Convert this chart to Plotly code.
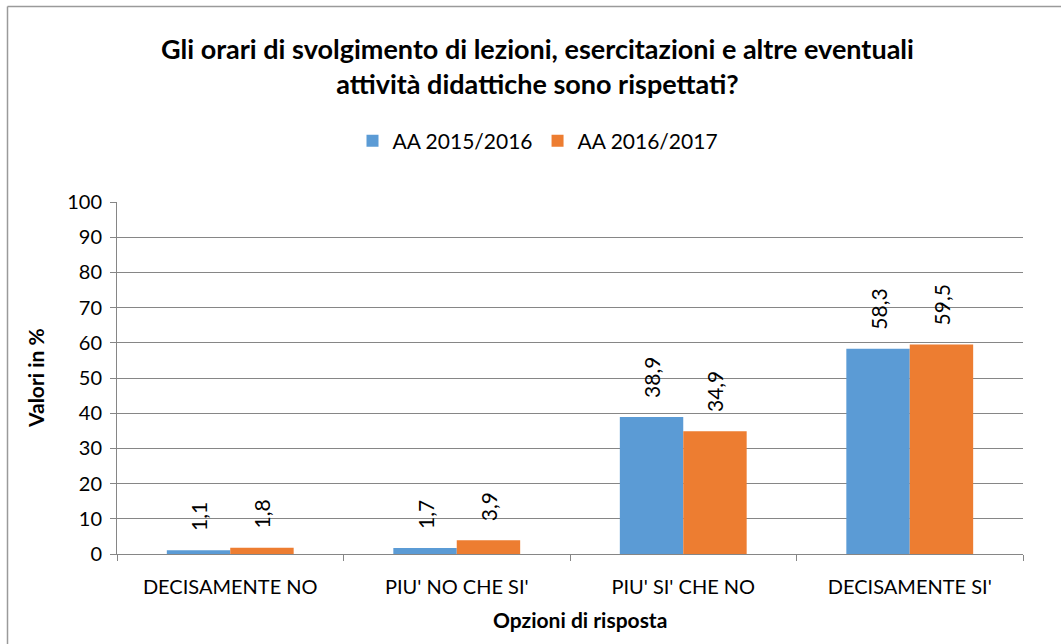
import plotly.graph_objects as go

categories = ["DECISAMENTE NO", "PIU' NO CHE SI'", "PIU' SI' CHE NO", "DECISAMENTE SI'"]
series_names = ["AA 2015/2016", "AA 2016/2017"]
values_2015 = [1.1, 1.7, 38.9, 58.3]
values_2016 = [1.8, 3.9, 34.9, 59.5]
colors = ["#5B9BD5", "#ED7D31"]
y_ticks = [0, 10, 20, 30, 40, 50, 60, 70, 80, 90, 100]

FONT = "Lato, 'Open Sans', sans-serif"
NB = "\u00a0"

def fmt(v):
    return NB * 3 + f"{v:.1f}".replace(".", ",")

W, H = 1061, 644
L, R, T, B = 117, 38, 202, 90
PW, PH = W - L - R, H - T - B

fig = go.Figure()
for name, vals, col in zip(series_names, [values_2015, values_2016], colors):
    fig.add_trace(go.Bar(
        x=categories, y=vals, name=name,
        marker=dict(color=col, line=dict(width=0)),
        text=[fmt(v) for v in vals],
        textposition="outside", textangle=-90,
        textfont=dict(family=FONT, size=21, color="#000000"),
        cliponaxis=False,
    ))

fig.update_layout(
    width=W, height=H,
    paper_bgcolor="white", plot_bgcolor="white",
    margin=dict(l=L, r=R, t=T, b=B),
    barmode="group", bargap=0.44, bargroupgap=0,
    font=dict(family=FONT, color="#000000"),
    showlegend=True,
    legend=dict(orientation="h", x=538 / W, xanchor="center", xref="container",
                y=1 - 141 / H, yanchor="middle", yref="container",
                font=dict(family=FONT, size=21, color="#000000"),
                traceorder="normal", itemwidth=30),
)
fig.update_xaxes(
    showline=True, linecolor="#868686", linewidth=1,
    ticks="outside", tickson="boundaries", ticklen=6, tickcolor="#868686",
    tickfont=dict(family=FONT, size=20, color="#000000"),
    ticklabelstandoff=15,
    showgrid=False,
)
fig.update_yaxes(
    range=[0, 100], tickvals=y_ticks,
    showline=True, linecolor="#868686", linewidth=1,
    ticks="outside", ticklen=6, tickcolor="#868686",
    tickfont=dict(family=FONT, size=20, color="#000000"),
    ticklabelstandoff=4,
    showgrid=True, gridcolor="#868686", gridwidth=1,
    zeroline=False,
)

fig.add_annotation(
    text="<b>Gli orari di svolgimento di lezioni, esercitazioni e altre eventuali<br>attività didattiche sono rispettati?</b>",
    xref="paper", yref="paper", x=(537 - L) / PW, y=1 + (T - 66) / PH, xanchor="center", yanchor="middle",
    showarrow=False, font=dict(family=FONT, size=27, color="#000000"), align="center",
)
fig.add_annotation(
    text="<b>Valori in %</b>", textangle=-90,
    xref="paper", yref="paper", x=-(L - 35) / PW, y=(H - B - 378) / PH, xanchor="center", yanchor="middle",
    showarrow=False, font=dict(family=FONT, size=21, color="#000000"),
)
fig.add_annotation(
    text="<b>Opzioni di risposta</b>",
    xref="paper", yref="paper", x=(580 - L) / PW, y=-(619 - (H - B)) / PH, xanchor="center", yanchor="middle",
    showarrow=False, font=dict(family=FONT, size=21, color="#000000"),
)
# outer chart border (left and top visible)
bx = -(L - 7.5) / PW
by = 1 + (T - 6.5) / PH
fig.add_shape(type="line", xref="paper", yref="paper",
              x0=bx, x1=(W + 10 - L) / PW, y0=by, y1=by,
              line=dict(color="#9a9a9a", width=1.5))
fig.add_shape(type="line", xref="paper", yref="paper",
              x0=bx, x1=bx, y0=by, y1=-(B + 10) / PH,
              line=dict(color="#9a9a9a", width=1.5))

fig.write_html("out.html", config={"displayModeBar": False},
               post_script="document.body.style.margin='0';")
